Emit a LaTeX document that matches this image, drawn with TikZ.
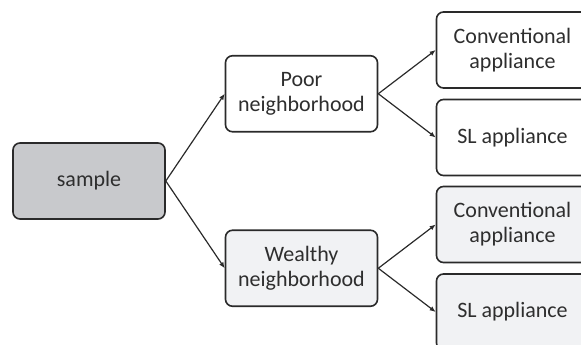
\documentclass[tikz,border=0pt]{standalone}
\usepackage{fontspec}
\setmainfont{Carlito}
\usepackage{tikz}
\usetikzlibrary{arrows.meta}

\definecolor{boxline}{HTML}{2A2A2A}
\definecolor{darkfill}{HTML}{C8C9CC}
\definecolor{lightfill}{HTML}{F1F2F4}
\definecolor{textgray}{HTML}{2E2E2E}

\begin{document}
\begin{tikzpicture}[-{Latex[length=6pt,width=5pt]},
      line width=1.2pt, draw=boxline,
      every node/.append style={draw=boxline,line width=1.6pt,rounded corners=7pt,
        minimum width=152pt,minimum height=76pt,inner sep=0pt,align=center,
        text=textgray,font=\fontsize{22}{25}\selectfont},
      grow'=right,
      edge from parent path={(\tikzparentnode.east) -- (\tikzchildnode.west)},
      level 1/.style={level distance=212.5pt,sibling distance=174.5pt},
      level 2/.style={level distance=211pt,sibling distance=87.5pt}]
    \useasboundingbox (0,0) rectangle (581pt,-345pt);
    \clip (0,0) rectangle (581pt,-345pt);
    \node (sample) [fill=darkfill] at (89pt,-181pt) {sample}
      child {node (poor) [fill=white] {Poor\\neighborhood}
      {
        child {node (poorconv) [fill=white] {Conventional\\appliance}}
        child {node (poorsl) [fill=white] {SL appliance}}
      }}
      child {node (wealthy) [fill=lightfill] {Wealthy\\neighborhood}
      {
        child {node (wealthyconv) [fill=lightfill] {Conventional\\appliance}}
        child {node (wealthysl) [fill=lightfill] {SL appliance}}
      }}
      ;
  \end{tikzpicture}
\end{document}
